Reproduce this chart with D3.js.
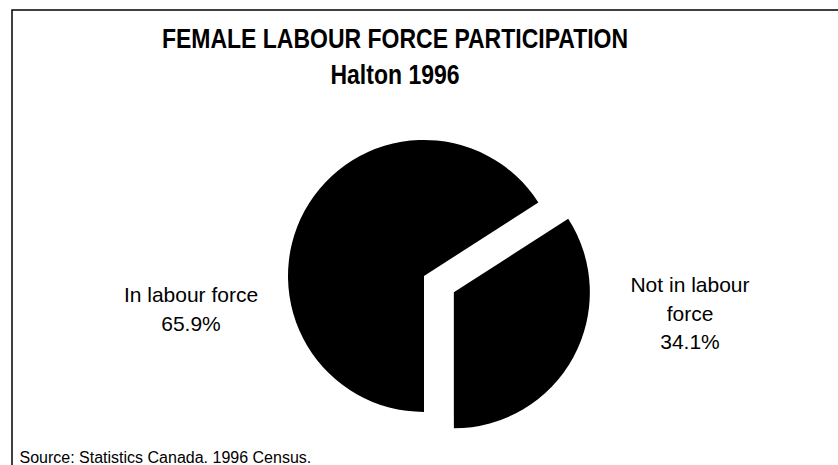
<!DOCTYPE html>
<html>
<head>
<meta charset="utf-8">
<script src="https://cdn.jsdelivr.net/npm/d3@7"></script>
<style>
  html, body { margin: 0; padding: 0; background: #fff; }
  svg { display: block; }
  text { font-family: "Liberation Sans", Arial, sans-serif; fill: #000; }
</style>
</head>
<body>
<svg id="chart" width="838" height="465"></svg>
<script>
// Female labour force participation, Halton 1996 (percent of women 15+)
const categories = ["In labour force", "Not in labour force"];
const values = [65.9, 34.1];
const labelLines = [["In labour force"], ["Not in labour", "force"]];
const titleLines = ["FEMALE LABOUR FORCE PARTICIPATION", "Halton 1996"];
const sourceNote = "Source: Statistics Canada. 1996 Census.";

const W = 838, H = 465;
const svg = d3.select("#chart");

// outer frame (runs past the right and bottom edges)
svg.append("rect")
  .attr("x", 12).attr("y", 10)
  .attr("width", W).attr("height", H)
  .attr("fill", "none").attr("stroke", "#000").attr("stroke-width", 1.5);

// title, slightly stretched vertically
const titleBase = [48, 83.5];
svg.append("g").selectAll("text")
  .data(titleLines)
  .join("text")
  .attr("transform", (d, i) => `translate(395,${titleBase[i]}) scale(1,1.2)`)
  .attr("text-anchor", "middle")
  .attr("font-size", 23)
  .attr("font-weight", "bold")
  .text(d => d);

// pie
const cx = 424, cy = 276, R = 136, explode = 34;
const data = categories.map((c, i) => ({ category: c, value: values[i], lines: labelLines[i] }));

const pie = d3.pie()
  .sort(null)
  .value(d => d.value)
  .startAngle(Math.PI)
  .endAngle(3 * Math.PI);

const arc = d3.arc().innerRadius(0).outerRadius(R);
const arcs = pie(data);

svg.append("g")
  .attr("transform", `translate(${cx},${cy})`)
  .selectAll("path")
  .data(arcs)
  .join("path")
  .attr("transform", (d, i) => {
    if (i === 0) return null;
    const mid = (d.startAngle + d.endAngle) / 2;
    return `translate(${explode * Math.sin(mid)},${-explode * Math.cos(mid)})`;
  })
  .attr("d", arc)
  .attr("fill", "#000");

// slice labels
const labelPos = [{ x: 191, y: 302 }, { x: 690, y: 292 }];
const lineH = 28.5;
const fmt = v => d3.format(".1f")(v) + "%";

const lbl = svg.append("g").selectAll("g")
  .data(arcs)
  .join("g");

lbl.each(function (d, i) {
  const lines = d.data.lines.concat([fmt(d.data.value)]);
  d3.select(this).selectAll("text")
    .data(lines)
    .join("text")
    .attr("x", labelPos[i].x)
    .attr("y", (t, j) => labelPos[i].y + j * lineH)
    .attr("text-anchor", "middle")
    .attr("font-size", 21)
    .text(t => t);
});

// source note
svg.append("text")
  .attr("x", 19.5)
  .attr("y", 463)
  .attr("font-size", 16)
  .text(sourceNote);
</script>
</body>
</html>
